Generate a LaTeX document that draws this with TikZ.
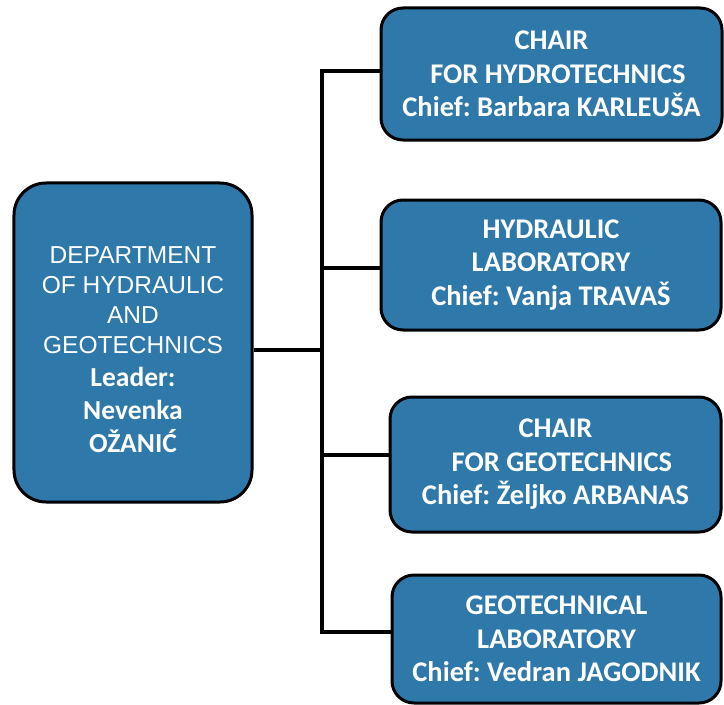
\documentclass[tikz,border=0pt]{standalone}
\usepackage{fontspec}
\newfontfamily\arialf{Liberation Sans}
\newfontfamily\calf{Carlito}
\definecolor{boxblue}{RGB}{46,120,170}
\newcommand\lefttop{\arialf\fontsize{24.5bp}{30bp}\selectfont}
\newcommand\leftbot{\calf\bfseries\fontsize{27.5bp}{33bp}\selectfont}
\frenchspacing
\tikzset{
  orgbox/.style={draw=black, line width=3bp, fill=boxblue, rounded corners=22bp,
    text=white, align=center, inner sep=0pt},
  wire/.style={draw=black, line width=3.5bp},
  rtext/.style={font=\calf\bfseries\fontsize{28.5bp}{33.5bp}\selectfont}
}
\begin{document}
\begin{tikzpicture}[x=1bp,y=-1bp]
\useasboundingbox (0,0) rectangle (724,705);
\node[orgbox, rounded corners=32bp, minimum width=238bp, minimum height=319bp] (L) at (133,342.5) {\begin{minipage}{230bp}\vspace*{14bp}\centering\lefttop DEPARTMENT\\OF HYDRAULIC\\AND\\GEOTECHNICS\par\leftbot Leader:\\Nevenka\\OŽANIĆ\end{minipage}};
\node[orgbox, rtext, minimum width=341bp, minimum height=132bp] (b1) at (551.5,74) {CHAIR\\\ \ FOR HYDROTECHNICS\\Chief: Barbara KARLEUŠA};
\node[orgbox, rtext, minimum width=340bp, minimum height=130bp] (b2) at (551,265) {HYDRAULIC\\LABORATORY\\Chief: Vanja TRAVAŠ};
\node[orgbox, rtext, minimum width=331bp, minimum height=135bp] (b3) at (555.5,464.5) {CHAIR\\\ \ FOR GEOTECHNICS\\Chief: Željko ARBANAS};
\node[orgbox, rtext, minimum width=329bp, minimum height=128bp] (b4) at (556.5,639) {GEOTECHNICAL\\LABORATORY\\Chief: Vedran JAGODNIK};
\coordinate (j) at (322,350);
\coordinate (t1) at (322,71);
\coordinate (t2) at (322,268);
\coordinate (t3) at (322,455);
\coordinate (t4) at (322,632);
\draw[wire] (L.east |- j) -- (j);
\draw[wire] (t1 -| b1.west) -- (t1) -- (t4) -- (t4 -| b4.west);
\draw[wire] (t2) -- (t2 -| b2.west);
\draw[wire] (t3) -- (t3 -| b3.west);
\end{tikzpicture}
\end{document}
